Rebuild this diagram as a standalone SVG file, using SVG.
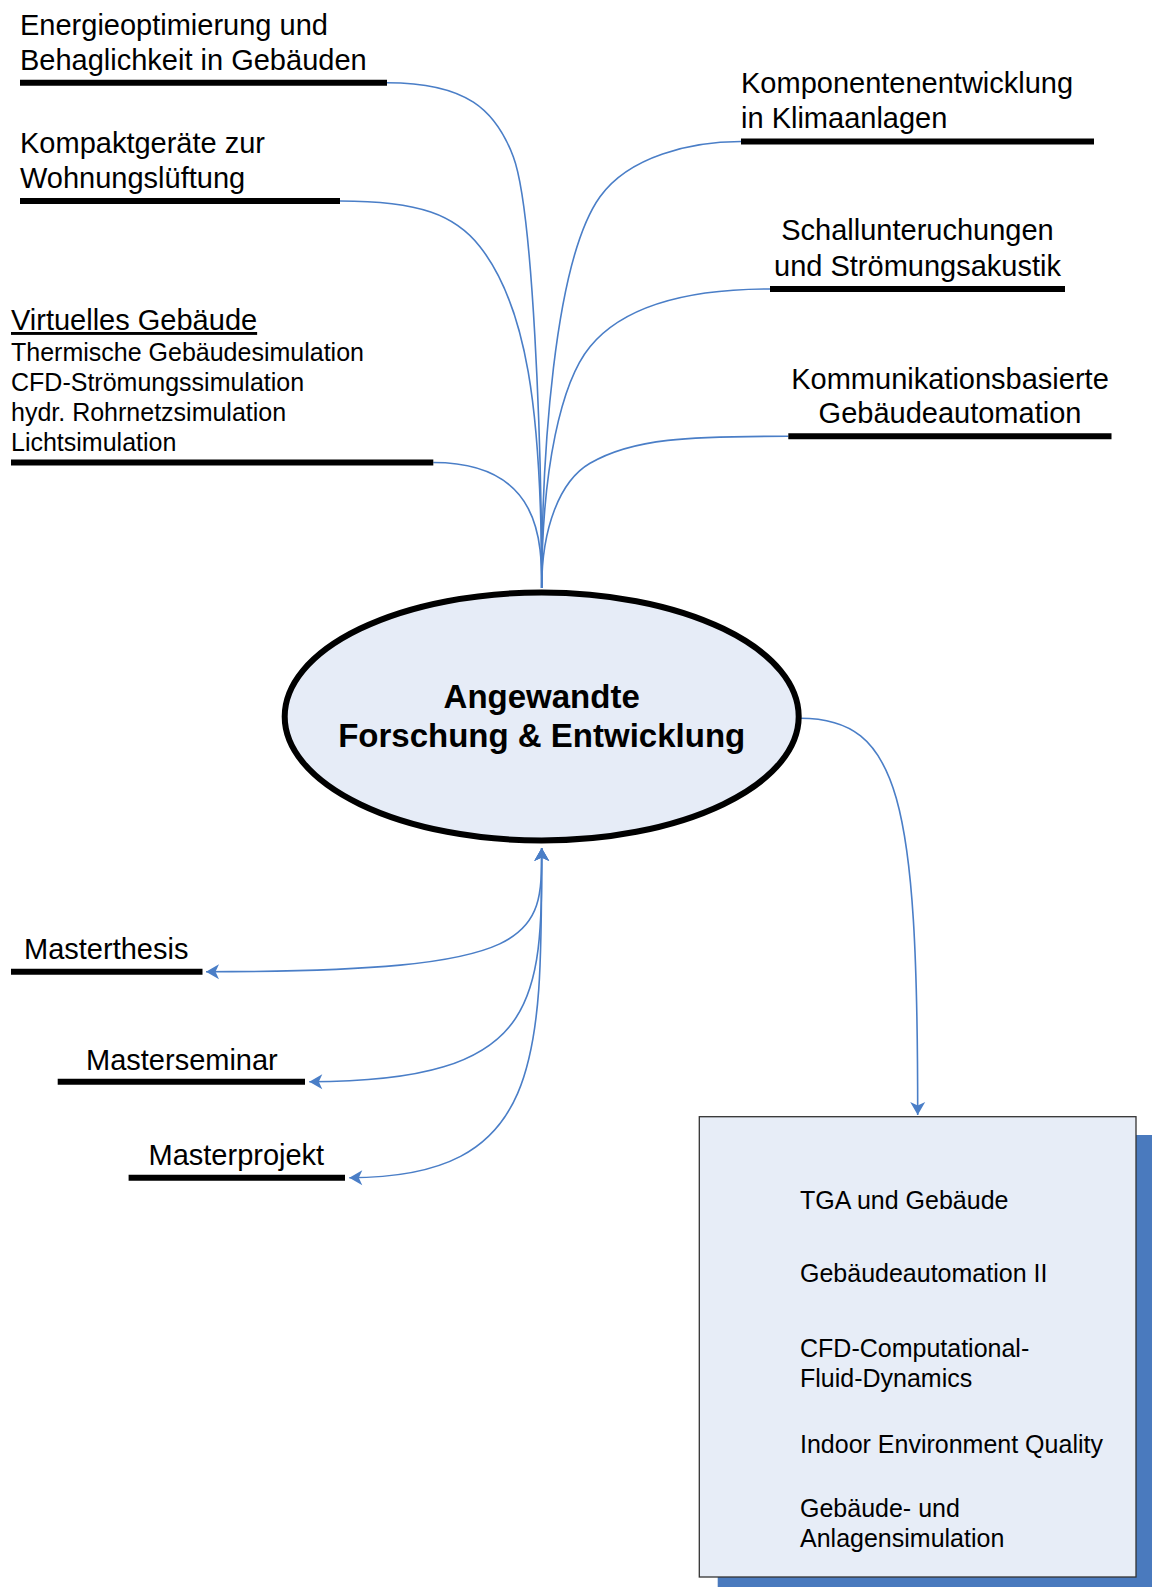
<svg xmlns="http://www.w3.org/2000/svg" width="1152" height="1587" viewBox="0 0 1152 1587">
<style>
text{font-family:"Liberation Sans",Arial,sans-serif;fill:#000}
.t29{font-size:29px}
.t25{font-size:25px}
.bold{font-size:33px;font-weight:bold}
.mid{text-anchor:middle}
.bar{stroke:#000;stroke-width:6;fill:none}
.con{stroke:#4A7EC7;stroke-width:1.6;fill:none}
</style>
<defs>
<marker id="ah" viewBox="-14 -8 15 16" markerWidth="15" markerHeight="16" refX="0" refY="0" orient="auto-start-reverse" markerUnits="userSpaceOnUse">
<path d="M0,0 L-13,-7.5 L-9.5,0 L-13,7.5 Z" fill="#4A7EC7"/>
</marker>
</defs>
<rect width="1152" height="1587" fill="#fff"/>
<g id="connectors">
<path class="con" d="M387,82.7 C466.7,82.7 495.6,109.9 513.3,156.7 C532.8,208.2 541.7,438 541.7,588"/>
<path class="con" d="M340,201 C420,201 455.3,215.2 480,246.7 C526.3,305.7 541.7,408 541.7,588"/>
<path class="con" d="M433.3,462.5 C541.7,462.5 541.7,542.7 541.7,588"/>
<path class="con" d="M741,141.5 C691,141.5 629,156.2 600,196.7 C553.6,261.5 541.7,458 541.7,588"/>
<path class="con" d="M770,289 C680,289 621.75,308.1 590,346.7 C561.4,381.4 541.7,468 541.7,588"/>
<path class="con" d="M788.3,436.3 C688.3,436.3 633.2,438.1 590,463.3 C559.8,480.9 541.7,528 541.7,588"/>
<path class="con" d="M800,718.3 C900,718.3 917.7,800 917.7,1115" marker-end="url(#ah)"/>
<path class="con" d="M206,971.7 C541.7,971.7 541.7,938.7 541.7,848" marker-start="url(#ah)" marker-end="url(#ah)"/>
<path class="con" d="M309.3,1081.7 C541.7,1081.7 541.7,1001.7 541.7,848" marker-start="url(#ah)" marker-end="url(#ah)"/>
<path class="con" d="M349.3,1177.7 C541.7,1177.7 541.7,1062.7 541.7,848" marker-start="url(#ah)" marker-end="url(#ah)"/>
</g>
<g id="n-energie">
<text class="t29" x="20" y="35">Energieoptimierung und</text>
<text class="t29" x="20" y="70">Behaglichkeit in Gebäuden</text>
<line class="bar" x1="20" y1="82.7" x2="387" y2="82.7"/>
</g>
<g id="n-kompakt">
<text class="t29" x="20" y="153.3">Kompaktgeräte zur</text>
<text class="t29" x="20" y="187.7">Wohnungslüftung</text>
<line class="bar" x1="20" y1="201" x2="340" y2="201"/>
</g>
<g id="n-virtuell">
<text class="t29" x="11" y="330" text-decoration="underline">Virtuelles Gebäude</text>
<text class="t25" x="11" y="360.5">Thermische Gebäudesimulation</text>
<text class="t25" x="11" y="390.5">CFD-Strömungssimulation</text>
<text class="t25" x="11" y="420.5">hydr. Rohrnetzsimulation</text>
<text class="t25" x="11" y="450.5">Lichtsimulation</text>
<line class="bar" x1="11" y1="462.5" x2="433.3" y2="462.5"/>
</g>
<g id="n-komponenten">
<text class="t29" x="741" y="93.3">Komponentenentwicklung</text>
<text class="t29" x="741" y="128.3">in Klimaanlagen</text>
<line class="bar" x1="741" y1="141.5" x2="1094" y2="141.5"/>
</g>
<g id="n-schall">
<text class="t29 mid" x="917.5" y="240">Schallunteruchungen</text>
<text class="t29 mid" x="917.5" y="276">und Strömungsakustik</text>
<line class="bar" x1="770" y1="289" x2="1065" y2="289"/>
</g>
<g id="n-kommunikation">
<text class="t29 mid" x="950" y="388.5">Kommunikationsbasierte</text>
<text class="t29 mid" x="950" y="423.3">Gebäudeautomation</text>
<line class="bar" x1="788.3" y1="436.3" x2="1111.5" y2="436.3"/>
</g>
<g id="n-center">
<ellipse cx="541.7" cy="716.5" rx="257" ry="124" fill="#E6ECF7" stroke="#000" stroke-width="6"/>
<text class="bold mid" x="541.7" y="707.7">Angewandte</text>
<text class="bold mid" x="541.7" y="746.7">Forschung &amp; Entwicklung</text>
</g>
<g id="n-thesis">
<text class="t29" x="24" y="959">Masterthesis</text>
<line class="bar" x1="11" y1="971.7" x2="202.5" y2="971.7"/>
</g>
<g id="n-seminar">
<text class="t29" x="86" y="1069.5">Masterseminar</text>
<line class="bar" x1="57.7" y1="1081.7" x2="305" y2="1081.7"/>
</g>
<g id="n-projekt">
<text class="t29" x="148.5" y="1165">Masterprojekt</text>
<line class="bar" x1="128.6" y1="1177.7" x2="345" y2="1177.7"/>
</g>
<g id="n-box">
<rect x="717.7" y="1135" width="450" height="470" fill="#4A7ABE"/>
<rect x="699.3" y="1116.7" width="436.7" height="460.3" fill="#E7EDF7" stroke="#333" stroke-width="1.3"/>
<text class="t25" x="800" y="1209.3">TGA und Gebäude</text>
<text class="t25" x="800" y="1281.7">Gebäudeautomation II</text>
<text class="t25" x="800" y="1356.7">CFD-Computational-</text>
<text class="t25" x="800" y="1386.7">Fluid-Dynamics</text>
<text class="t25" x="800" y="1452.7">Indoor Environment Quality</text>
<text class="t25" x="800" y="1516.7">Gebäude- und</text>
<text class="t25" x="800" y="1546.7">Anlagensimulation</text>
</g>
</svg>
